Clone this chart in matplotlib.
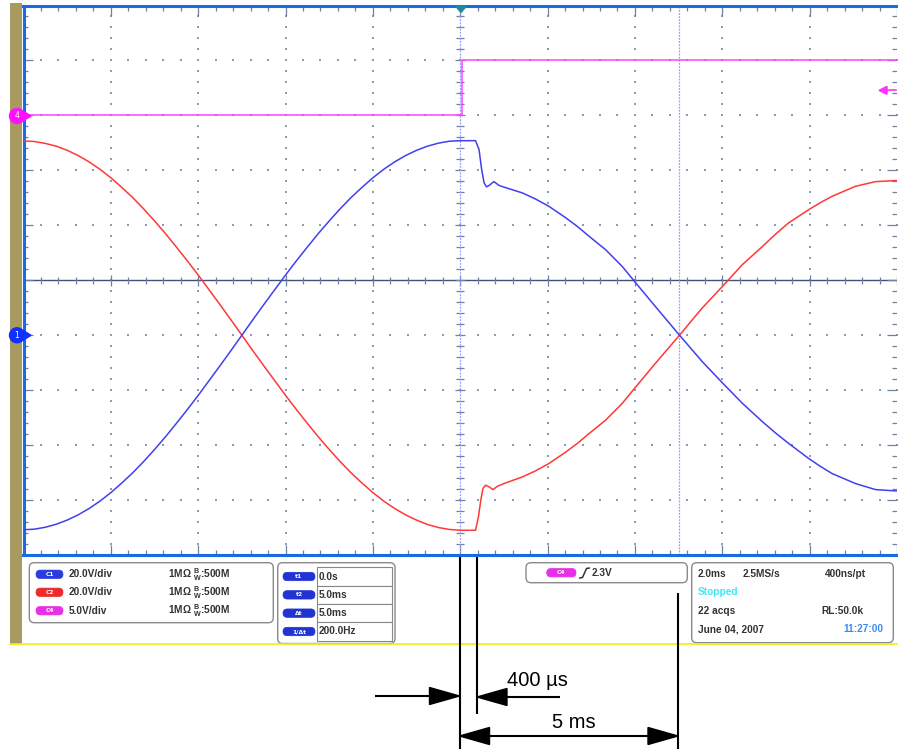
import matplotlib.pyplot as plt
import numpy as np
from matplotlib.patches import FancyBboxPatch, Polygon, Rectangle, Circle
from matplotlib.collections import LineCollection

plt.rcParams["mathtext.fontset"] = "custom"
plt.rcParams["mathtext.rm"] = "Liberation Sans:bold"
plt.rcParams["mathtext.bf"] = "Liberation Sans:bold"

# scope screen: 2 ms/div horizontally, trigger at centre
# C1 and C2 at 20 V/div, ground one division below centre
# C4 at 5 V/div, ground three divisions above centre

c1_t = [-10.0, -9.75, -9.5, -9.25, -9.0, -8.75, -8.5, -8.25, -8.0, -7.75, -7.5,
        -7.25, -7.0, -6.75, -6.5, -6.25, -6.0, -5.75, -5.5, -5.25, -5.0,
        -4.75, -4.5, -4.25, -4.0, -3.75, -3.5, -3.25, -3.0, -2.75, -2.5,
        -2.25, -2.0, -1.75, -1.5, -1.25, -1.0, -0.75, -0.5, -0.25, 0.0,
        0.35, 0.43, 0.49, 0.545, 0.6, 0.66, 0.77, 0.89, 1.0, 1.42, 1.72, 2.03,
        2.41, 2.68, 2.95, 3.33, 3.71, 4.02, 4.47, 5.02, 5.54, 6.0, 6.46, 6.92,
        7.22, 7.52, 7.98, 8.25, 8.52, 9.05, 9.51, 10.0]
c1_v = [-70.8, -70.6, -69.9, -68.8, -67.3, -65.4, -63.1, -60.4, -57.3, -53.8, -50.1,
        -46.0, -41.6, -37.0, -32.1, -27.1, -21.9, -16.5, -11.1, -5.6, 0.0,
        5.6, 11.1, 16.5, 21.9, 27.1, 32.1, 37.0, 41.6, 46.0, 50.1,
        53.8, 57.3, 60.4, 63.1, 65.4, 67.3, 68.8, 69.9, 70.6, 70.8,
        70.8, 67.6, 60.3, 55.5, 54.0, 54.5, 55.9, 54.5, 53.9, 51.8, 49.6, 46.9,
        42.8, 39.6, 36.0, 31.1, 25.0, 19.0, 10.4, 0.0, -9.6, -17.3, -24.8, -31.5,
        -35.6, -39.4, -44.9, -47.8, -50.4, -54.0, -56.2, -56.7]

c2_t = [-10.0, -9.75, -9.5, -9.25, -9.0, -8.75, -8.5, -8.25, -8.0, -7.75, -7.5,
        -7.25, -7.0, -6.75, -6.5, -6.25, -6.0, -5.75, -5.5, -5.25, -5.0,
        -4.75, -4.5, -4.25, -4.0, -3.75, -3.5, -3.25, -3.0, -2.75, -2.5,
        -2.25, -2.0, -1.75, -1.5, -1.25, -1.0, -0.75, -0.5, -0.25, 0.0,
        0.35, 0.415, 0.47, 0.52, 0.58, 0.66, 0.75, 0.85, 1.0, 1.42, 1.72, 2.03,
        2.41, 2.68, 2.95, 3.33, 3.71, 4.02, 4.47, 5.02, 5.54, 6.0, 6.46, 6.92,
        7.22, 7.52, 7.98, 8.25, 8.52, 9.05, 9.51, 10.0]
c2_v = [70.7, 70.5, 69.8, 68.8, 67.3, 65.4, 63.1, 60.4, 57.3, 53.8, 50.1,
        46.0, 41.6, 37.0, 32.1, 27.1, 21.9, 16.5, 11.1, 5.6, 0.0,
        -5.6, -11.1, -16.5, -21.9, -27.1, -32.1, -37.0, -41.6, -46.0, -50.1,
        -53.8, -57.3, -60.4, -63.1, -65.4, -67.3, -68.9, -70.0, -70.7, -71.0,
        -71.0, -66.2, -60.1, -55.8, -54.6, -55.2, -56.2, -55.0, -54.0, -51.6, -49.4, -46.7,
        -42.6, -39.4, -35.8, -30.9, -24.8, -18.8, -10.2, 0.0, 9.9, 17.7, 25.7, 32.3,
        36.8, 40.9, 45.7, 48.3, 50.6, 54.2, 55.9, 56.3]

c4_t = [-10.0, 0.03, 0.03, 10.0]
c4_v = [0.0, 0.0, 5.0, 5.0]

cursor_t = [0.0, 5.0]
trig_level = 2.3

ch_rows = [("C1", "#2a3be0", "20.0V/div"), ("C2", "#ec2a2a", "20.0V/div"),
           ("C4", "#e82ee8", "5.0V/div")]
cursor_rows = [("t1", "0.0s"), ("t2", "5.0ms"), ("Δt", "5.0ms"), ("1/Δt", "200.0Hz")]

W, H = 898, 749
fig = plt.figure(figsize=(W / 100, H / 100), dpi=100)
fig.patch.set_facecolor("white")

# scope graticule axes (pixel box 23.5..897 x 5.5..555)
gl, gr, gt, gb = 23.5, 897.0, 5.5, 555.0
ax = fig.add_axes([gl / W, 1 - gb / H, (gr - gl) / W, (gb - gt) / H])
ax.set_xlim(-5, 5)
ax.set_ylim(-5, 5)
ax.set_xticks([])
ax.set_yticks([])
for s in ["left", "top", "bottom"]:
    ax.spines[s].set_color("#1a6ae6")
    ax.spines[s].set_linewidth(2.2)
ax.spines["right"].set_visible(False)

px_x = 10 / (gr - gl)   # divisions per pixel
px_y = 10 / (gb - gt)

# dotted grid
fine = np.arange(-5, 5.001, 0.2)
dots_x, dots_y = [], []
for i in range(-4, 5):
    if i != 0:
        dots_x += [i] * len(fine)
        dots_y += list(fine)
        dots_x += list(fine)
        dots_y += [i] * len(fine)
ax.scatter(dots_x, dots_y, s=0.9, marker="s", color="#8c9ab4", linewidths=0, zorder=1)

# centre horizontal axis and ticks
ax.axhline(0, color="#3f5277", lw=1.0, zorder=1)
segs = []
for v in fine:
    major = abs(v - round(v)) < 1e-6
    hy = (5.5 if major else 3.5) * px_y
    segs.append([(v, -hy), (v, hy)])
    hx = (5 if major else 4) * px_x
    segs.append([(-hx, v), (hx, v)])
    # edge ticks
    lx = (10 if major else 5) * px_x
    ly = (10 if major else 5) * px_y
    segs.append([(-5, v), (-5 + lx, v)])
    segs.append([(5, v), (5 - lx, v)])
    segs.append([(v, 5), (v, 5 - ly)])
    segs.append([(v, -5), (v, -5 + ly)])
ax.add_collection(LineCollection(segs, colors="#6f80a0", linewidths=0.9, zorder=1))

# cursors
for ct in cursor_t:
    ax.axvline(ct / 2, color="#9a9cff", lw=0.9, ls=(0, (1.5, 1)), zorder=2)

# traces
ax.plot(np.array(c4_t) / 2, np.array(c4_v) / 5 + 3, color="#ff44ff", lw=1.1, zorder=3)
ax.plot(np.array(c2_t) / 2, np.array(c2_v) / 20 - 1, color="#ff3838", lw=1.1, zorder=4)
ax.plot(np.array(c1_t) / 2, np.array(c1_v) / 20 - 1, color="#4040f0", lw=1.1, zorder=5)

# overlay in pixel coordinates
ov = fig.add_axes([0, 0, 1, 1], zorder=3)
ov.set_xlim(0, W)
ov.set_ylim(H, 0)
ov.axis("off")

ov.add_patch(Rectangle((10, 3), 12, 640.5, color="#a99a60", lw=0))
ov.plot([10, W], [643.5, 643.5], color="#f2f000", lw=1.2)

# trigger marker top, level arrow right, channel markers left
ov.add_patch(Polygon([(455.5, 6), (466.5, 6), (461, 12.5)], closed=True, color="#1f8a9a"))
ly = 280.3 - (trig_level / 5 + 3) * 54.9
ov.plot([884, 896], [ly, ly], color="#ff30ff", lw=1.2)
ov.add_patch(Polygon([(879, ly), (887, ly - 4), (887, ly + 4)], closed=True, color="#ff30ff"))

for cy, col, lab in [(116, "#ff10ff", "4"), (335.3, "#1030ff", "1")]:
    ov.add_patch(Circle((17, cy), 7.5, color=col, zorder=5))
    ov.add_patch(Polygon([(23, cy - 5), (31, cy), (23, cy + 5)], closed=True, color=col, zorder=5))
    ov.text(17, cy, lab, color="white", fontsize=5.5, ha="center", va="center",
            family="DejaVu Sans", zorder=6)

# info panel
def box(x0, y0, x1, y1):
    ov.add_patch(FancyBboxPatch((x0, y0), x1 - x0, y1 - y0,
                                boxstyle="round,pad=0,rounding_size=5",
                                fc="white", ec="#8a8a8a", lw=1.0))

def pill(x0, x1, yc, col, lab):
    ov.add_patch(FancyBboxPatch((x0, yc - 4.2), x1 - x0, 8.4,
                                boxstyle="round,pad=0,rounding_size=4.2",
                                fc=col, ec=col, lw=0.5))
    ov.text((x0 + x1) / 2, yc, lab, color="white", fontsize=4.3, ha="center",
            va="center", family="DejaVu Sans", weight="bold")

tkw = dict(fontsize=7.3, family="Liberation Sans", weight="bold", va="center",
           color="#333333")

box(29.3, 562.7, 273.3, 622.7)
for (lab, col, txt), yc in zip(ch_rows, [574.3, 592.3, 610.7]):
    pill(36, 63, yc, col, lab)
    ov.text(69, yc, txt, **tkw)
    ov.text(168, yc, r"1MΩ $^{\mathrm{B}}_{\mathrm{W}}$:500M", **tkw)

box(277.7, 562.7, 395, 643.5)
edges = [567.3, 585.7, 604.0, 622.3, 640.7]
for k, (lab, txt) in enumerate(cursor_rows):
    y0, y1 = edges[k], edges[k + 1]
    ov.add_patch(Rectangle((317.3, y0), 74.4, y1 - y0, fc="white", ec="#888888", lw=0.8))
    pill(283, 315, (y0 + y1) / 2, "#2233d4", lab)
    ov.text(319, (y0 + y1) / 2, txt, **tkw)

box(526, 562.7, 687.3, 582.7)
pill(546.7, 576, 572.7, "#e82ee8", "C4")
ov.plot([579.5, 582.5, 584.5, 586.5, 589.5], [578, 577.5, 573, 568.5, 568],
        color="#333333", lw=1.1, solid_capstyle="round")
ov.text(592, 572.7, f"{trig_level}V", **tkw)

box(691.7, 562.7, 893.3, 642.7)
ov.text(698, 574.3, "2.0ms", **tkw)
ov.text(742.5, 574.3, "2.5MS/s", **tkw)
ov.text(825, 574.3, "400ns/pt", **tkw)
ov.text(698, 592.3, "Stopped", **dict(tkw, color="#44e4f4"))
ov.text(698, 610.7, "22 acqs", **tkw)
ov.text(821, 610.7, "RL:50.0k", **tkw)
ov.text(698, 629, "June 04, 2007", **tkw)
ov.text(843, 629, "11:27:00", **dict(tkw, color="#3a8cf2"))

# timing annotation
x0 = 459.5 + cursor_t[0] * 43.7
x400 = 459.5 + 0.4 * 43.7
x5 = 459.5 + cursor_t[1] * 43.7
lk = dict(color="black", lw=1.5, solid_capstyle="butt")
ov.plot([x0, x0], [557, H], **lk)
ov.plot([x400, x400], [557, 714], **lk)
ov.plot([x5, x5], [593, H], **lk)

ov.plot([375, x0 - 28], [696, 696], **lk)
ov.add_patch(Polygon([(x0 - 30, 687.5), (x0, 696), (x0 - 30, 704.5)], closed=True, color="black"))
ov.plot([x400 + 28, 560], [697, 697], **lk)
ov.add_patch(Polygon([(x400 + 30, 688.5), (x400, 697), (x400 + 30, 705.5)], closed=True, color="black"))
ov.plot([x0 + 28, x5 - 28], [736, 736], **lk)
ov.add_patch(Polygon([(x0 + 30, 727.5), (x0, 736), (x0 + 30, 744.5)], closed=True, color="black"))
ov.add_patch(Polygon([(x5 - 30, 727.5), (x5, 736), (x5 - 30, 744.5)], closed=True, color="black"))

ov.text(537, 680, "400 µs", fontsize=14.5, family="Liberation Sans", ha="center",
        va="center", color="black")
ov.text(574, 722, "5 ms", fontsize=14.5, family="Liberation Sans", ha="center",
        va="center", color="black")

fig.savefig("out.png", dpi=100, facecolor="white")
